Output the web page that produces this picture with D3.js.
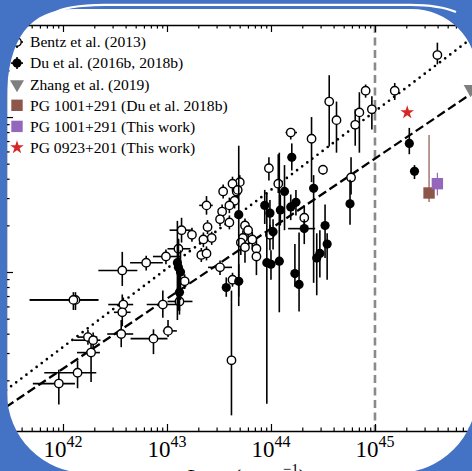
<!DOCTYPE html>
<html><head><meta charset="utf-8">
<script src="https://cdn.jsdelivr.net/npm/d3@7"></script>
<style>html,body{margin:0;padding:0;background:#4472c4;}svg{display:block;}</style>
</head><body>
<svg id="chart" width="472" height="471"></svg>
<script>
// ---------------- DATA (log10 units) ----------------
// axis domains (log10 of L5100 in erg/s, log10 of lag in days)
const xDomainLog = [41.452, 46.106];
const yDomainLog = [-0.026, 2.594];
const xMajorExp = [42, 43, 44, 45];

// Bentz et al. (2013): [logL, logR, errL_low, errL_high, errR_up, errR_down]
const bentzPts = [
  [45.60,2.40,0,0,0.08,0.06],[45.19,2.17,0,0,0.05,0.06],[44.91,2.17,0,0,0.04,0.045],
  [44.97,2.05,0,0,0.085,0.13],[44.85,2.03,0,0,0.13,0.26],[44.81,1.95,0,0,0.10,0.135],
  [44.56,2.10,0,0,0.17,0.29],[44.63,1.98,0,0,0.12,0.21],[44.39,1.86,0,0,0.14,0.28],
  [44.19,1.90,0.05,0.06,0.03,0.045],[44.50,1.66,0,0,0.03,0.03],[43.98,1.67,0,0,0.07,0.08],
  [44.77,1.61,0,0,0.13,0.11],[44.07,1.57,0,0,0.19,0.06],[43.70,1.58,0,0,0.045,0.05],
  [43.63,1.57,0,0,0.045,0.045],[43.54,1.52,0,0,0.045,0.045],[43.67,1.52,0,0,0.04,0.045],
  [43.65,1.46,0,0,0.045,0.05],[43.60,1.43,0,0,0.05,0.05],[43.53,1.39,0,0,0.045,0.05],
  [43.51,1.34,0,0,0.045,0.045],[43.60,1.32,0,0,0.045,0.045],[43.38,1.43,0.07,0.06,0.06,0.06],
  [43.39,1.29,0,0,0.045,0.045],[43.43,1.22,0,0,0.04,0.045],[43.35,1.21,0,0,0.045,0.05],
  [43.33,1.11,0,0,0.045,0.045],[43.38,1.12,0,0,0.045,0.045],[43.24,1.24,0,0,0.045,0.045],
  [43.14,1.27,0.115,0.105,0.08,0.08],[43.11,1.15,0.105,0.115,0.065,0.08],[42.99,1.10,0.125,0.135,0.045,0.05],
  [42.80,1.06,0.155,0.16,0.045,0.05],[42.57,1.01,0.23,0.145,0.12,0.10],[43.51,1.03,0.115,0.115,0.045,0.05],
  [43.63,0.95,0,0,0.045,0.045],[43.17,0.94,0,0,0.045,0.05],[43.12,0.81,0.115,0.125,0.065,0.085],
  [42.96,0.79,0.155,0.165,0.09,0.085],[42.12,0.82,0.44,0.22,0.05,0.065],[42.10,0.82,0.42,0.24,0.05,0.065],
  [42.58,0.79,0.145,0.095,0.045,0.05],[42.57,0.74,0.08,0.08,0.115,0.09],[42.56,0.60,0.135,0.115,0.09,0.085],
  [43.01,0.62,0.05,0.085,0.07,0.04],[42.87,0.57,0.22,0.135,0.06,0.10],[42.24,0.58,0.10,0.09,0.045,0.05],
  [42.29,0.56,0.19,0.07,0.05,0.065],[42.27,0.48,0.135,0.085,0.065,0.19],[42.14,0.35,0.32,0.18,0.08,0.10],
  [41.96,0.28,0.25,0.155,0.09,0.135],[43.62,0.43,0,0,0.45,0.355],[43.75,1.30,0,0,0.045,0.10],
  [43.78,1.27,0,0,0.05,0.065],[43.73,1.22,0,0,0.05,0.08],[43.71,1.19,0,0,0.05,0.08],
  [43.82,1.21,0,0,0.05,0.065],[43.75,1.16,0,0,0.06,0.10],[43.86,1.15,0,0,0.06,0.08],
  [43.86,1.10,0,0,0.06,0.12],[43.68,1.53,0,0,0.05,0.065],[43.99,1.24,0,0,0.065,0.10],
  [44.32,1.35,0,0,0.08,0.08]
];

// Du et al. (2016b, 2018b): [logL, logR, errL_low, errL_high, errR_up, errR_down]
const duPts = [
  [44.20,1.74,0,0,0.09,0.085],[45.33,1.83,0,0,0.10,0.07],[45.38,1.65,0,0,0.04,0.05],
  [44.76,1.44,0,0,0.155,0.135],[44.41,1.54,0,0,0.085,0.61],[44.32,1.28,0.155,0.105,0.06,0.10],
  [44.52,1.30,0,0,0.135,0.21],[44.54,1.18,0,0,0.07,0.23],[44.47,1.12,0,0,0.15,0.155],
  [44.44,1.09,0,0,0.16,0.24],[44.23,0.99,0,0,0.19,0.085],[44.27,0.92,0,0,0.335,0.175],
  [44.08,1.07,0,0,0.70,0.33],[43.96,1.06,0,0,0.45,0.91],[43.69,0.94,0,0,0.11,0.10],
  [43.57,0.90,0,0,0.065,0.06],[44.13,1.52,0,0,0.17,0.25],[44.09,1.40,0,0,0.10,0.10],
  [43.94,1.43,0,0,0.10,0.12],[43.99,1.38,0,0,0.085,0.11],[43.69,1.37,0,0,0.445,0.59],
  [44.19,1.42,0,0,0.08,0.085],[44.24,1.45,0,0,0.08,0.085],[44.02,1.26,0,0,0.08,0.115],
  [44.00,1.05,0,0,0.09,0.10],[43.10,1.06,0,0,0.27,0.37],[43.11,1.03,0,0,0.18,0.28],
  [43.13,1.00,0,0,0.14,0.18],[43.12,0.87,0.04,0.04,0.14,0.12]
];

// Zhang et al. (2019)
const zhangPts = [[45.92,2.18,0,0,0,0]];
// PG 1001+291 (Du et al. 2018b)
const pg1001DuPts = [[45.52,1.51,0,0,0.374,0.058]];
// PG 1001+291 (This work)
const pg1001ThisPts = [[45.60,1.57,0,0,0.07,0.077]];
// PG 0923+201 (This work)
const pg0923Pts = [[45.31,2.03,0,0,0,0]];

// R-L relations: [intercept at logL=44, slope]
const bentzRelation = [1.53, 0.507];
const duRelation = [1.28, 0.452];
const eddingtonLimitLogL = 45;

const legendLabels = [
  "Bentz et al. (2013)",
  "Du et al. (2016b, 2018b)",
  "Zhang et al. (2019)",
  "PG 1001+291 (Du et al. 2018b)",
  "PG 1001+291 (This work)",
  "PG 0923+201 (This work)"
];

// ---------------- DRAW ----------------
(function () {
const svg = d3.select("#chart");
const W = 472, H = 471;
const mLeft = 6, mRight = 490, mTop = 25, mBottom = 431;
const p10 = v => Math.pow(10, v);

const x = d3.scaleLog().domain(xDomainLog.map(p10)).range([mLeft, mRight]);
const y = d3.scaleLog().domain(yDomainLog.map(p10)).range([mBottom, mTop]);

const serif = "'Liberation Serif','Times New Roman',serif";
svg.append("rect").attr("width", W).attr("height", H).attr("fill", "#ffffff");

const g = svg.append("g");

// vertical dashed line at 1e45
g.append("line")
  .attr("x1", x(p10(eddingtonLimitLogL))).attr("x2", x(p10(eddingtonLimitLogL)))
  .attr("y1", mTop).attr("y2", mBottom)
  .attr("stroke", "#8a8a8a").attr("stroke-width", 2.6).attr("stroke-dasharray", "8,4.5");

// relation lines
function relLine(rel) {
  return xDomainLog.map(lx => [x(p10(lx)), y(p10(rel[0] + rel[1] * (lx - 44)))]);
}
const lineGen = d3.line();
g.append("path").attr("d", lineGen(relLine(bentzRelation)))
  .attr("fill", "none").attr("stroke", "#000").attr("stroke-width", 2.7)
  .attr("stroke-linecap", "round").attr("stroke-dasharray", "0,6.4");
g.append("path").attr("d", lineGen(relLine(duRelation)))
  .attr("fill", "none").attr("stroke", "#000").attr("stroke-width", 2.3)
  .attr("stroke-dasharray", "9,4");

// error bars
function errBars(sel, pts, color, width) {
  pts.forEach(d => {
    const cx = x(p10(d[0])), cy = y(p10(d[1]));
    if (d[4] > 0 || d[5] > 0) {
      sel.append("line").attr("x1", cx).attr("x2", cx)
        .attr("y1", y(p10(d[1] + d[4]))).attr("y2", y(p10(d[1] - d[5])))
        .attr("stroke", color).attr("stroke-width", width);
    }
    if (d[2] > 0 || d[3] > 0) {
      sel.append("line").attr("y1", cy).attr("y2", cy)
        .attr("x1", x(p10(d[0] - d[2]))).attr("x2", x(p10(d[0] + d[3])))
        .attr("stroke", color).attr("stroke-width", width);
    }
  });
}

const gb = g.append("g");
errBars(gb, bentzPts, "#000", 1.6);
gb.selectAll("circle").data(bentzPts).join("circle")
  .attr("cx", d => x(p10(d[0]))).attr("cy", d => y(p10(d[1]))).attr("r", 4.2)
  .attr("fill", "#fff").attr("stroke", "#000").attr("stroke-width", 1.4);

const gd = g.append("g");
errBars(gd, duPts, "#000", 1.6);
gd.selectAll("circle").data(duPts).join("circle")
  .attr("cx", d => x(p10(d[0]))).attr("cy", d => y(p10(d[1]))).attr("r", 4.6)
  .attr("fill", "#000");

// special objects
const sq = d3.symbol().type(d3.symbolSquare).size(130);
const star = d3.symbol().type(d3.symbolStar).size(58);
const tri = d3.symbol().type(d3.symbolTriangle).size(85);

errBars(g, pg1001DuPts, "#8c564b", 1.2);
g.selectAll(".pgdu").data(pg1001DuPts).join("path").attr("class", "pgdu")
  .attr("d", sq).attr("fill", "#8c564b")
  .attr("transform", d => `translate(${x(p10(d[0]))},${y(p10(d[1]))})`);
errBars(g, pg1001ThisPts, "#9467bd", 1.2);
g.selectAll(".pgth").data(pg1001ThisPts).join("path").attr("class", "pgth")
  .attr("d", sq).attr("fill", "#9467bd")
  .attr("transform", d => `translate(${x(p10(d[0]))},${y(p10(d[1]))})`);
g.selectAll(".pg09").data(pg0923Pts).join("path").attr("class", "pg09")
  .attr("d", star).attr("fill", "#d62728")
  .attr("transform", d => `translate(${x(p10(d[0]))},${y(p10(d[1]))})`);
g.selectAll(".zh").data(zhangPts).join("path").attr("class", "zh")
  .attr("d", tri).attr("fill", "#7f7f7f")
  .attr("transform", d => `translate(${x(p10(d[0]))},${y(p10(d[1]))}) rotate(180)`);

// ---------------- AXES ----------------
const xt = x.ticks();
const yt = y.ticks();
const isMajor = v => Math.abs(Math.log10(v) - Math.round(Math.log10(v))) < 1e-6;

function styleAxis(a, horiz) {
  a.select(".domain").attr("stroke", "#000").attr("stroke-width", 1.4);
  a.selectAll(".tick line").attr("stroke", "#000").attr("stroke-width", 1.2)
    .each(function (d) {
      const s = d3.select(this);
      const k = isMajor(d) ? 7 : 3.6;
      if (horiz) s.attr("y2", Math.sign(+s.attr("y2")) * k);
      else s.attr("x2", Math.sign(+s.attr("x2")) * k);
    });
}
const axB = g.append("g").attr("transform", `translate(0,${mBottom})`)
  .call(d3.axisBottom(x).tickValues(xt).tickSize(-7).tickSizeOuter(0).tickFormat(""));
styleAxis(axB, true);
const axT = g.append("g").attr("transform", `translate(0,${mTop})`)
  .call(d3.axisTop(x).tickValues(xt).tickSize(-7).tickSizeOuter(0).tickFormat(""));
styleAxis(axT, true);
const axL = g.append("g").attr("transform", `translate(${mLeft},0)`)
  .call(d3.axisLeft(y).tickValues(yt).tickSize(-7).tickSizeOuter(0).tickFormat(""));
styleAxis(axL, false);
const axR = g.append("g").attr("transform", `translate(${mRight},0)`)
  .call(d3.axisRight(y).tickValues(yt).tickSize(-7).tickSizeOuter(0).tickFormat(""));
styleAxis(axR, false);

// x tick labels 10^n
xMajorExp.forEach(e => {
  const t = g.append("text").attr("x", x(p10(e))).attr("y", 457)
    .attr("text-anchor", "middle").attr("font-family", serif).attr("fill", "#000");
  t.append("tspan").attr("font-size", 23).text("10");
  t.append("tspan").attr("font-size", 16).attr("dy", -10).text(String(e));
});

// x axis title (cut off at the bottom edge, as in the source image)
const xt2 = g.append("text").attr("x", 186).attr("y", 484)
  .attr("font-family", serif).attr("font-size", 22).attr("fill", "#000");
xt2.append("tspan").attr("font-style", "italic").text("L");
xt2.append("tspan").attr("font-size", 15).attr("dy", 4).text("5100");
xt2.append("tspan").attr("dy", -4).text(" (erg s");
xt2.append("tspan").attr("font-size", 15).attr("dy", -10).text("\u22121");
xt2.append("tspan").attr("dy", 10).text(")");

// ---------------- LEGEND ----------------
const lg = g.append("g");
const lx = 17, ly0 = 42, ldy = 21.1;
legendLabels.forEach((s, i) => {
  lg.append("text").attr("x", 30).attr("y", ly0 + i * ldy + 5.3)
    .attr("font-family", serif).attr("font-size", 15.6).attr("fill", "#000").text(s);
});
[0, 1].forEach(i => {
  const cy = ly0 + i * ldy;
  lg.append("line").attr("x1", lx - 6).attr("x2", lx + 6).attr("y1", cy).attr("y2", cy).attr("stroke", "#000").attr("stroke-width", 1.6);
  lg.append("line").attr("x1", lx).attr("x2", lx).attr("y1", cy - 6).attr("y2", cy + 6).attr("stroke", "#000").attr("stroke-width", 1.6);
});
lg.append("circle").attr("cx", lx).attr("cy", ly0).attr("r", 4.2).attr("fill", "#fff").attr("stroke", "#000").attr("stroke-width", 1.4);
lg.append("circle").attr("cx", lx).attr("cy", ly0 + ldy).attr("r", 4.6).attr("fill", "#000");
lg.append("path").attr("d", tri).attr("fill", "#7f7f7f").attr("transform", `translate(${lx},${ly0 + 2 * ldy}) rotate(180)`);
lg.append("path").attr("d", sq).attr("fill", "#8c564b").attr("transform", `translate(${lx},${ly0 + 3 * ldy})`);
lg.append("path").attr("d", sq).attr("fill", "#9467bd").attr("transform", `translate(${lx},${ly0 + 4 * ldy})`);
lg.append("path").attr("d", star).attr("fill", "#d62728").attr("transform", `translate(${lx},${ly0 + 5 * ldy})`);

// ---------------- FRAME ----------------
const inner = "M7,100 C7,38 30,9 75,9 L412,9 A65,65 0 0 1 477,74 L477,393 A80,80 0 0 1 397,473 L87,473 A80,80 0 0 1 7,393 Z";
svg.append("path").attr("d", `M-5,-5 H${W + 5} V${H + 5} H-5 Z ` + inner)
  .attr("fill", "#4472c4").attr("fill-rule", "evenodd");
svg.append("path").attr("d", "M52,14 Q66,5 104,4.8 L410,4.8 Q440,5 456,12")
  .attr("fill", "none").attr("stroke", "#ffffff").attr("stroke-width", 2.2);
})();
</script>
</body></html>
